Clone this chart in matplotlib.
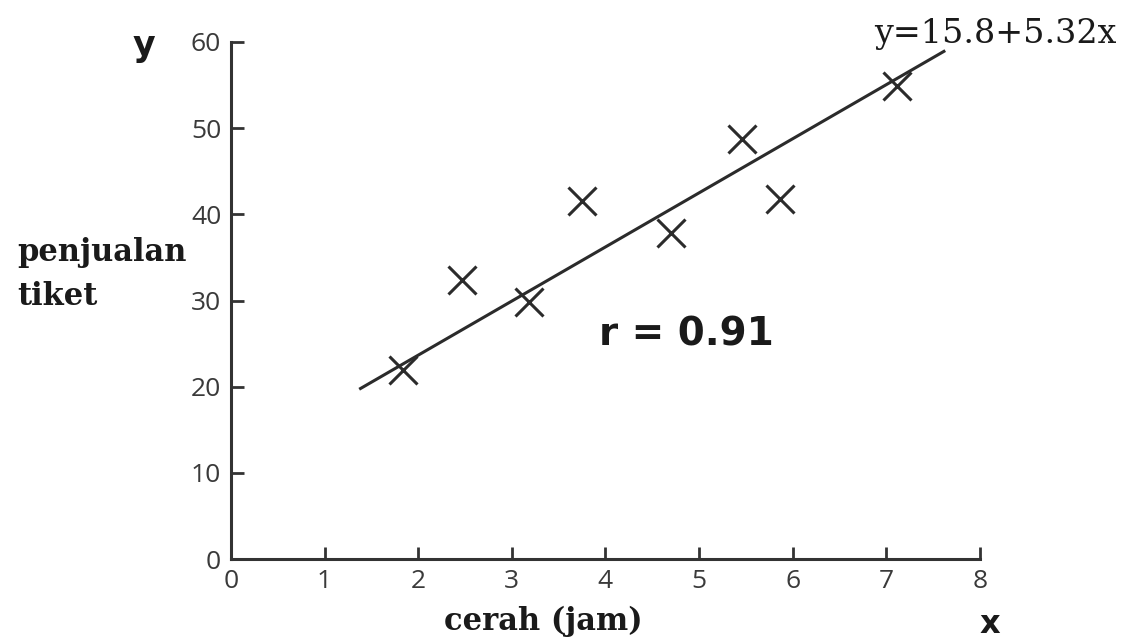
import matplotlib.pyplot as plt

# data
cerah = [1.84, 2.47, 3.18, 3.75, 4.70, 5.46, 5.87, 7.12]
tiket = [21.9, 32.4, 29.8, 41.6, 37.8, 48.7, 41.8, 54.9]

# regression line as drawn (end points)
line_x = [1.37, 7.63]
line_y = [19.7, 59.0]

x_ticks = [0, 1, 2, 3, 4, 5, 6, 7, 8]
y_ticks = [0, 10, 20, 30, 40, 50, 60]

dark = '#2b2b2b'

fig = plt.figure(figsize=(11.25, 6.41), dpi=100)
ax = fig.add_axes([0.2053, 0.1279, 0.871 - 0.2053, 0.9345 - 0.1279])

ax.plot(line_x, line_y, color=dark, lw=2.2, solid_capstyle='butt')
ax.plot(cerah, tiket, ls='none', marker='x', ms=20, mew=2.2, color=dark)

ax.set_xlim(0, 8)
ax.set_ylim(0, 60)
ax.set_xticks(x_ticks)
ax.set_yticks(y_ticks)
for s in ['top', 'right']:
    ax.spines[s].set_visible(False)
for s in ['left', 'bottom']:
    ax.spines[s].set_linewidth(2.2)
    ax.spines[s].set_color('#333333')
ax.tick_params(direction='in', length=9, width=2, color='#333333',
               labelsize=19, labelcolor='#3a3a3a', pad=7)
for lab in ax.get_xticklabels() + ax.get_yticklabels():
    lab.set_family('Open Sans')

# labels
fig.text(0.128, 0.928, 'y', fontsize=25, fontweight='bold', family='DejaVu Sans',
         color='#1a1a1a', ha='center', va='center')
fig.text(0.88, 0.026, 'x', fontsize=23, fontweight='bold', family='DejaVu Sans',
         color='#1a1a1a', ha='center', va='center')
fig.text(0.015, 0.572, 'penjualan\ntiket', fontsize=22, fontweight='bold',
         family='DejaVu Serif', color='#1a1a1a', ha='left', va='center',
         linespacing=1.55)
fig.text(0.483, 0.03, 'cerah (jam)', fontsize=22, fontweight='bold',
         family='DejaVu Serif', color='#1a1a1a', ha='center', va='center')
fig.text(0.885, 0.947, 'y=15.8+5.32x', fontsize=24,
         family='DejaVu Serif', color='#1a1a1a', ha='center', va='center')
ax.text(4.87, 26.0, 'r = 0.91', fontsize=28, fontweight='bold',
        family='DejaVu Sans', color='#1a1a1a', ha='center', va='center')

fig.savefig('out.png', dpi=100)
